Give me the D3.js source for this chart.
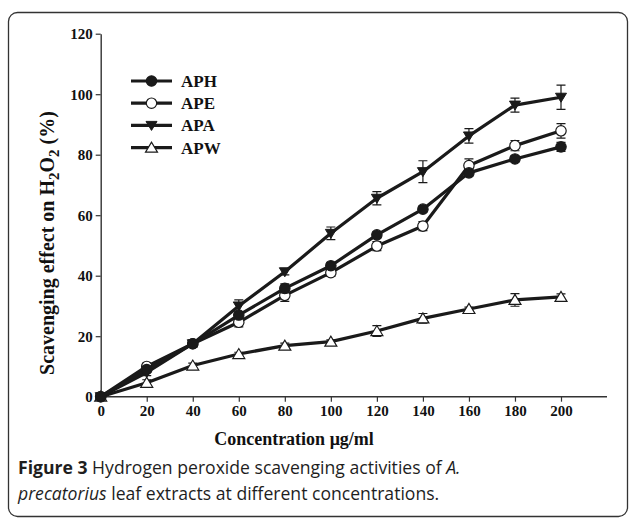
<!DOCTYPE html>
<html><head><meta charset="utf-8">
<script src="https://cdn.jsdelivr.net/npm/d3@7"></script>
<style>body{margin:0;background:#fff}svg{display:block}</style>
</head><body>
<svg id="c" width="629" height="521"></svg>
<script>
const conc = [0,20,40,60,80,100,120,140,160,180,200];
const APH = [0,9,17.5,27,35.8,43.3,53.5,62,74,78.6,82.6];
const APHerr = [0,1,1,1,1.5,1,1,1,1,1,1.5];
const APE = [0,10,17.5,24.6,33.5,41,49.8,56.4,76.4,83,87.9];
const APEerr = [0,1,1,1.5,2,1.2,1.5,1.5,2.2,1.7,2.4];
const APA = [0,8,17.5,30,41.3,54,65.6,74.4,86.2,96.4,99];
const APAerr = [0,1,1.2,2,1,2.1,2.2,3.6,2.4,2.3,4];
const APW = [0,4.6,10.3,14.1,16.9,18.2,21.7,25.9,29,32,33];
const APWerr = [0,1,0.8,0.6,0.8,0.6,1.8,1.6,0.6,2.1,1];
const xTicks = [0,20,40,60,80,100,120,140,160,180,200];
const yTicks = [0,20,40,60,80,100,120];
const seriesNames = ["APH","APE","APA","APW"];

const svg = d3.select("#c");
const ink = "#1a1a1a";

// frame
svg.append("rect").attr("x",8.5).attr("y",12.5).attr("width",619).attr("height",504)
  .attr("rx",9).attr("fill","none").attr("stroke","#333").attr("stroke-width",1.3);

const x = d3.scaleLinear().domain([0,200]).range([100.7,561]);
const y = d3.scaleLinear().domain([0,120]).range([396.7,33.7]);

const serif = "'Liberation Serif','DejaVu Serif',serif";

// axes
const gx = svg.append("g").attr("transform",`translate(0,${y(0)})`)
  .call(d3.axisBottom(x).tickValues(xTicks).tickSize(5).tickPadding(4).tickSizeOuter(0));
gx.select(".domain").attr("d",`M${x(0)},0H607`);
const gy = svg.append("g").attr("transform",`translate(${x(0)},0)`)
  .call(d3.axisLeft(y).tickValues(yTicks).tickSize(5).tickPadding(3).tickSizeOuter(0));
[gx,gy].forEach(g=>{
  g.select(".domain").attr("stroke","#333").attr("stroke-width",1.4);
  g.selectAll(".tick line").attr("stroke","#333").attr("stroke-width",1.2);
  g.selectAll(".tick text").attr("font-family",serif).attr("font-weight","bold")
    .attr("font-size",15).attr("fill","#111");
});

// axis titles
svg.append("text").attr("x",294).attr("y",445).attr("text-anchor","middle")
  .attr("font-family",serif).attr("font-weight","bold").attr("font-size",18).attr("fill","#111")
  .text("Concentration μg/ml");
const yl = svg.append("text").attr("transform","translate(54,243) rotate(-90)")
  .attr("text-anchor","middle").attr("font-family",serif).attr("font-weight","bold")
  .attr("font-size",20).attr("fill","#111");
yl.append("tspan").text("Scavenging effect on H");
yl.append("tspan").attr("dy",5).attr("font-size",15).text("2");
yl.append("tspan").attr("dy",-5).text("O");
yl.append("tspan").attr("dy",5).attr("font-size",15).text("2");
yl.append("tspan").attr("dy",-5).text(" (%)");

const series = [
  {name:"APH", v:APH, e:APHerr, sym:"circle", fill:ink},
  {name:"APE", v:APE, e:APEerr, sym:"circle", fill:"#fff"},
  {name:"APA", v:APA, e:APAerr, sym:"down", fill:ink},
  {name:"APW", v:APW, e:APWerr, sym:"up", fill:"#fff"}
];

function marker(g, s, cx, cy){
  if(s.sym==="circle"){
    g.append("circle").attr("cx",cx).attr("cy",cy).attr("r",5.2)
      .attr("fill",s.fill).attr("stroke",ink).attr("stroke-width",1.2);
  } else if(s.sym==="down"){
    g.append("path").attr("d",`M${cx-5.5},${cy-4}L${cx+5.5},${cy-4}L${cx},${cy+5}Z`)
      .attr("fill",ink).attr("stroke",ink).attr("stroke-width",1);
  } else {
    g.append("path").attr("d",`M${cx-6},${cy+4.5}L${cx+6},${cy+4.5}L${cx},${cy-5.5}Z`)
      .attr("fill","#fff").attr("stroke",ink).attr("stroke-width",1.2);
  }
}

const line = d3.line().x((d,i)=>x(conc[i])).y(d=>y(d));
// draw order: APW, APA, APE, APH
[series[3],series[2],series[1],series[0]].forEach(s=>{
  const g = svg.append("g");
  g.append("path").datum(s.v).attr("d",line).attr("fill","none")
    .attr("stroke",ink).attr("stroke-width",3.2).attr("stroke-linejoin","round");
  s.v.forEach((v,i)=>{
    const e = s.e[i];
    if(e>0){
      const cx=x(conc[i]);
      g.append("path").attr("d",`M${cx},${y(v-e)}V${y(v+e)}M${cx-4.5},${y(v+e)}H${cx+4.5}M${cx-4.5},${y(v-e)}H${cx+4.5}`)
        .attr("stroke",ink).attr("stroke-width",1.2).attr("fill","none");
    }
  });
  s.v.forEach((v,i)=>marker(g,s,x(conc[i]),y(v)));
});

// legend
const lg = svg.append("g");
series.forEach((s,i)=>{
  const ly = 81 + i*22.2;
  lg.append("line").attr("x1",131).attr("x2",172).attr("y1",ly).attr("y2",ly)
    .attr("stroke",ink).attr("stroke-width",3.2);
  marker(lg,s,151.5,ly);
  lg.append("text").attr("x",181).attr("y",ly+6).attr("font-family",serif)
    .attr("font-weight","bold").attr("font-size",17).attr("fill","#111").text(s.name);
});

// caption
const sans = "'Open Sans','Noto Sans',sans-serif";
const c1 = svg.append("text").attr("x",18).attr("y",474).attr("font-family",sans)
  .attr("font-size",17.6).attr("fill","#1e1e1e");
c1.append("tspan").attr("font-weight","bold").text("Figure 3");
c1.append("tspan").text(" Hydrogen peroxide scavenging activities of ");
c1.append("tspan").attr("font-style","italic").text("A.");
const c2 = svg.append("text").attr("x",18).attr("y",500).attr("font-family",sans)
  .attr("font-size",17.6).attr("fill","#1e1e1e");
c2.append("tspan").attr("font-style","italic").text("precatorius");
c2.append("tspan").text(" leaf extracts at different concentrations.");
</script>
</body></html>
